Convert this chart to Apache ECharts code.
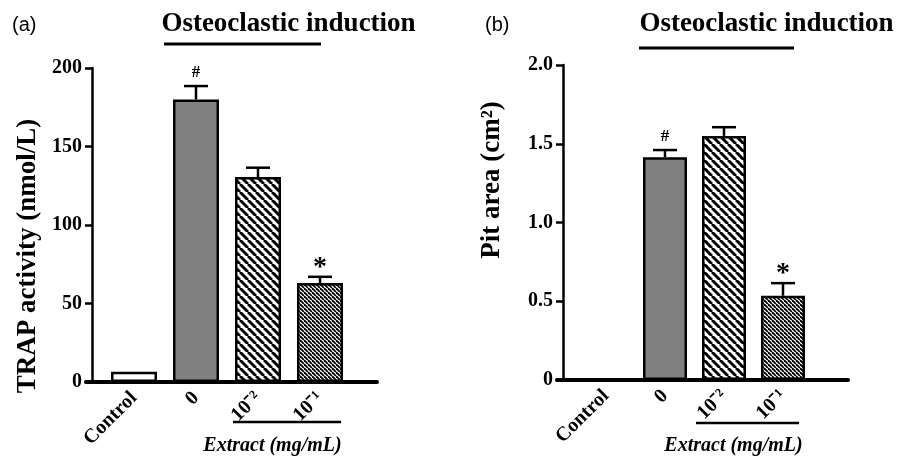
<!DOCTYPE html>
<html>
<head>
<meta charset="utf-8">
<script src="https://cdn.jsdelivr.net/npm/echarts@6/dist/echarts.min.js"></script>
<style>html,body{margin:0;padding:0;background:#fff}#c{width:909px;height:456px}</style>
</head>
<body>
<div id="c"></div>
<script>
// ---- data ----
const categories = ['Control', '0', '10⁻²', '10⁻¹'];
const trapValues = [6.5, 180, 130.5, 63];
const trapErrors = [0, 8.5, 6, 4];
const trapMarks = ['', '#', '', '*'];
const pitValues = [0, 1.415, 1.55, 0.535];
const pitErrors = [0, 0.045, 0.055, 0.08];
const pitMarks = ['', '#', '', '*'];
const titleText = 'Osteoclastic induction';
const trapName = 'TRAP activity (nmol/L)';
const pitName = 'Pit area (cm²)';
const extractText = 'Extract (mg/mL)';

const SERIF = '"Liberation Serif", "Times New Roman", serif';

function hatch(size, lw) {
  const c = document.createElement('canvas');
  c.width = size; c.height = size;
  const g = c.getContext('2d');
  g.fillStyle = '#fff'; g.fillRect(0, 0, size, size);
  g.strokeStyle = '#000'; g.lineWidth = lw;
  for (let k = -1; k <= 1; k++) {
    g.beginPath();
    g.moveTo(k * size, 0);
    g.lineTo(k * size + size, size);
    g.stroke();
  }
  return { image: c, repeat: 'repeat' };
}
const fills = ['#ffffff', '#808080', hatch(8, 3.0), hatch(4, 1.8)];

function barData(values) {
  return values.map((v, i) => ({ value: v, itemStyle: { color: fills[i] } }));
}
function errData(values, errs) {
  return values.map((v, i) => [i, v, errs[i]]);
}
function errRender(marks) {
  return function (params, api) {
    const x = api.value(0), v = api.value(1), e = api.value(2);
    const p0 = api.coord([x, v]);
    const p1 = api.coord([x, v + e]);
    const children = [];
    if (e > 0) {
      children.push({ type: 'line', shape: { x1: p0[0], y1: p0[1], x2: p1[0], y2: p1[1] }, style: { stroke: '#000', lineWidth: 2.5 } });
      children.push({ type: 'line', shape: { x1: p1[0] - 12, y1: p1[1], x2: p1[0] + 12, y2: p1[1] }, style: { stroke: '#000', lineWidth: 2.5 } });
    }
    const m = marks[params.dataIndex];
    if (m) {
      const big = m === '*';
      children.push({
        type: 'text', x: p1[0], y: p1[1] - (big ? 9 : 13),
        style: { text: m, fill: '#000', align: 'center', verticalAlign: 'middle',
          font: big ? 'bold 28px ' + SERIF : 'bold 17px ' + SERIF }
      });
    }
    return { type: 'group', children: children };
  };
}

const baseAxisX = (gi) => ({
  type: 'value', gridIndex: gi, min: 0, max: 1,
  axisLine: { show: true, lineStyle: { color: '#000', width: 4 } },
  axisTick: { show: false }, axisLabel: { show: false }, splitLine: { show: false }
});
const baseAxisY = (gi) => ({ type: 'value', gridIndex: gi, min: 0, max: 1, show: false });

const catAxis = (gi) => ({
  type: 'category', gridIndex: gi, data: categories,
  axisLine: { show: false }, axisTick: { show: false },
  axisLabel: { rotate: 45, margin: 13, color: '#000', fontFamily: SERIF, fontWeight: 'bold', fontSize: 20 }
});
const valAxis = (gi, max, interval, offset, fmt) => ({
  type: 'value', gridIndex: gi, min: 0, max: max, interval: interval, offset: offset,
  axisLine: { show: true, lineStyle: { color: '#000', width: 2.5 } },
  axisTick: { show: true, length: 7, lineStyle: { color: '#000', width: 2.5 } },
  splitLine: { show: false },
  axisLabel: { margin: 10, color: '#000', fontFamily: SERIF, fontWeight: 'bold', fontSize: 20, formatter: fmt }
});

const option = {
  animation: false,
  backgroundColor: '#fff',
  grid: [
    { left: 86, top: 68, width: 291, height: 314 },
    { left: 103, top: 68, width: 248, height: 314 },
    { left: 557, top: 65, width: 291, height: 315 },
    { left: 576.5, top: 65, width: 236, height: 315 }
  ],
  xAxis: [baseAxisX(0), catAxis(1), baseAxisX(2), catAxis(3)],
  yAxis: [
    baseAxisY(0),
    valAxis(1, 200, 50, 11, v => String(v)),
    baseAxisY(2),
    valAxis(3, 2, 0.5, 13.5, v => (v === 0 ? '0' : v.toFixed(1)))
  ],
  series: [
    { type: 'bar', xAxisIndex: 1, yAxisIndex: 1, barWidth: 46, data: barData(trapValues),
      itemStyle: { borderColor: '#000', borderWidth: 2.5 } },
    { type: 'custom', xAxisIndex: 1, yAxisIndex: 1, data: errData(trapValues, trapErrors),
      encode: { x: 0, y: 1 }, renderItem: errRender(trapMarks), z: 5 },
    { type: 'bar', xAxisIndex: 3, yAxisIndex: 3, barWidth: 44, data: barData(pitValues),
      itemStyle: { borderColor: '#000', borderWidth: 2.5 } },
    { type: 'custom', xAxisIndex: 3, yAxisIndex: 3, data: errData(pitValues, pitErrors),
      encode: { x: 0, y: 1 }, renderItem: errRender(pitMarks), z: 5 }
  ],
  graphic: [
    { type: 'text', x: 12, y: 25, style: { text: '(a)', fill: '#000', font: '20px "Liberation Sans", Arial, sans-serif', verticalAlign: 'middle' } },
    { type: 'text', x: 485, y: 25, style: { text: '(b)', fill: '#000', font: '20px "Liberation Sans", Arial, sans-serif', verticalAlign: 'middle' } },
    { type: 'text', x: 288.5, y: 24, style: { text: titleText, fill: '#000', font: 'bold 27px ' + SERIF, align: 'center', verticalAlign: 'middle' } },
    { type: 'text', x: 766.5, y: 24, style: { text: titleText, fill: '#000', font: 'bold 27px ' + SERIF, align: 'center', verticalAlign: 'middle' } },
    { type: 'line', shape: { x1: 164, y1: 44, x2: 321, y2: 44 }, style: { stroke: '#000', lineWidth: 3 } },
    { type: 'line', shape: { x1: 639, y1: 48, x2: 794, y2: 48 }, style: { stroke: '#000', lineWidth: 3 } },
    { type: 'text', x: 28, y: 256, rotation: Math.PI / 2, style: { text: trapName, fill: '#000', font: 'bold 27px ' + SERIF, align: 'center', verticalAlign: 'middle' } },
    { type: 'text', x: 492.5, y: 180, rotation: Math.PI / 2, style: { text: pitName, fill: '#000', font: 'bold 27px ' + SERIF, align: 'center', verticalAlign: 'middle' } },
    { type: 'line', shape: { x1: 233, y1: 422, x2: 341, y2: 422 }, style: { stroke: '#000', lineWidth: 2.5 } },
    { type: 'line', shape: { x1: 696, y1: 423, x2: 799, y2: 423 }, style: { stroke: '#000', lineWidth: 2.5 } },
    { type: 'text', x: 272.5, y: 446, style: { text: extractText, fill: '#000', font: 'italic bold 20px ' + SERIF, align: 'center', verticalAlign: 'middle' } },
    { type: 'text', x: 733.5, y: 446, style: { text: extractText, fill: '#000', font: 'italic bold 20px ' + SERIF, align: 'center', verticalAlign: 'middle' } }
  ]
};
const chart = echarts.init(document.getElementById('c'), null, { renderer: 'canvas' });
chart.setOption(option);
</script>
</body>
</html>
